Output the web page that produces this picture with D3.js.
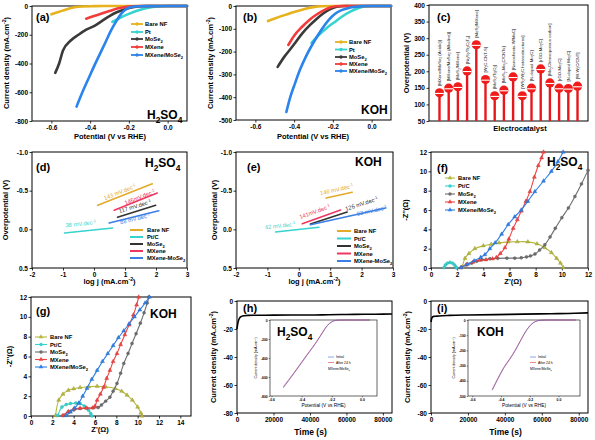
<!DOCTYPE html>
<html><head><meta charset="utf-8">
<script src="https://cdn.jsdelivr.net/npm/d3@7"></script>
<style>body{margin:0;background:#fff}svg{display:block;font-family:"Liberation Sans",Arial,sans-serif}</style>
</head><body><svg id="c" width="595" height="440"></svg>
<script>
// ---------------- DATA ----------------
const lsvNames = ['Bare NF','Pt','MoSe_{2}','MXene','MXene/MoSe_{2}'];
const tafelNames = ['Bare NF','Pt/C','MoSe_{2}','MXene','MXene-MoSe_{2}'];
const eisNames = ['Bare NF','Pt/C','MoSe_{2}','MXene','MXene/MoSe_{2}'];

const lsvPotentialTicks = [-0.6,-0.4,-0.2,0.0];
const aCurrentTicks = [0,-200,-400,-600,-800];
const bCurrentTicks = [0,-100,-200,-300,-400,-500];

// (a) LSV in H2SO4: [potential V, current density mA/cm2]
const aBareNF = [[-0.60,-58],[-0.56,-40],[-0.52,-22],[-0.48,-9],[-0.44,-3],[-0.38,-1],[-0.30,0],[0.10,0]];
const aPt = [[-0.285,-110],[-0.25,-85],[-0.20,-55],[-0.15,-30],[-0.10,-12],[-0.05,-3],[0.0,0],[0.10,0]];
const aMoSe2 = [[-0.58,-465],[-0.56,-400],[-0.54,-310],[-0.50,-240],[-0.46,-200],[-0.42,-165],[-0.38,-140],[-0.34,-105],[-0.30,-70],[-0.26,-42],[-0.22,-22],[-0.18,-8],[-0.14,-2],[-0.10,0],[0.10,0]];
const aMXene = [[-0.42,-88],[-0.38,-70],[-0.34,-52],[-0.30,-35],[-0.26,-18],[-0.22,-7],[-0.18,-2],[-0.14,0],[0.10,0]];
const aHetero = [[-0.47,-700],[-0.44,-600],[-0.41,-510],[-0.38,-420],[-0.35,-335],[-0.32,-250],[-0.29,-165],[-0.26,-95],[-0.24,-55],[-0.22,-28],[-0.20,-12],[-0.17,-4],[-0.12,-1],[0.10,0]];

// (b) LSV in KOH
const bBareNF = [[-0.535,-66],[-0.50,-55],[-0.45,-40],[-0.40,-26],[-0.35,-14],[-0.30,-5],[-0.26,-1],[-0.20,0],[0.10,0]];
const bPt = [[-0.31,-162],[-0.27,-125],[-0.23,-95],[-0.19,-70],[-0.15,-45],[-0.11,-25],[-0.07,-10],[-0.04,-2],[0.0,0],[0.10,0]];
const bMoSe2 = [[-0.485,-267],[-0.45,-222],[-0.42,-190],[-0.395,-162],[-0.36,-122],[-0.32,-85],[-0.29,-61],[-0.25,-33],[-0.21,-12],[-0.18,-3],[-0.14,0],[0.10,0]];
const bMXene = [[-0.43,-171],[-0.40,-130],[-0.36,-92],[-0.32,-60],[-0.28,-35],[-0.24,-16],[-0.21,-6],[-0.18,-1],[-0.15,0],[0.10,0]];
const bHetero = [[-0.44,-465],[-0.42,-400],[-0.395,-338],[-0.37,-280],[-0.34,-223],[-0.30,-160],[-0.26,-105],[-0.22,-60],[-0.19,-35],[-0.155,-18],[-0.11,-7],[-0.07,-2],[-0.04,0],[0.10,0]];

// (c) comparison of overpotentials
const cCatalysts = ['[MXene/MoSe_{2} (Acidic)]','[MXene/MoSe_{2} (Alkaline)]','[MoS_{2}/MXene]','[Ni_{3}S_{2}/Ti_{3}C_{2}T_{x}]','[MoS_{2}/MXene]','[W_{2}C-CNT-S]','[MoS_{2}/Ti_{3}C_{2}]','[MoS_{2}-Mo_{2}C/CNTs]','[Nanosheets-W/MoC]','[WS_{2}/W_{2}C heterostructures]','[N-doped Mo_{2}C]','[rGO-Mo_{2}C]','[Mo_{2}C/mesoporous carbon]','[rGO-Mo_{2}C]','[N-doped Mo_{2}C]','[W-W_{2}C/CNT]'];
const cOverpotential = [135,149,153,201,280,175,126,143,183,126,149,207,165,149,148,155];
const cTicks = [50,100,150,200,250,300,350,400];

// (d),(e) Tafel lines: [log j, overpotential]
const tafelXTicks = [-2,-1,0,1,2,3];
const tafelYTicks = [-1.0,-0.5,0.0,0.5];
const dBareNF = [[0.12,-0.31],[1.88,-0.59]];
const dPtC = [[-0.95,0.047],[0.60,-0.017]];
const dMoSe2 = [[0.76,-0.155],[1.99,-0.31]];
const dMXene = [[0.65,-0.246],[2.04,-0.47]];
const dHetero = [[0.49,-0.082],[2.09,-0.24]];
const dSlopes = ['143 mV.dec^{-1}','38 mV.dec^{-1}','117 mV.dec^{-1}','145mV.dec^{-1}','88 mV.dec^{-1}'];
const dSlopeAt = [[0.86,-0.457],[-0.42,-0.047],[1.34,-0.272],[1.50,-0.392],[1.34,-0.112]];
const eBareNF = [[0.87,-0.405],[1.70,-0.48]];
const ePtC = [[-0.74,0.034],[0.64,-0.026]];
const eMoSe2 = [[0.37,-0.069],[1.54,-0.224]];
const eMXene = [[0.11,-0.073],[1.33,-0.25]];
const eHetero = [[0.37,-0.06],[2.77,-0.276]];
const eSlopes = ['148 mV.dec^{-1}','42 mV.dec^{-1}','126 mV.dec^{-1}','141mV.dec^{-1}','83 mV.dec^{-1}'];
const eSlopeAt = [[1.22,-0.49],[-0.59,-0.022],[2.02,-0.306],[0.53,-0.203],[2.34,-0.215]];

// (f),(g) Nyquist: [Z', -Z'']
const fTicks = [0,2,4,6,8,10,12];
const gXTicks = [0,2,4,6,8,10,12,14];
const fBareNF = [[2.4,0.1],[2.6,1.0],[2.9,1.5],[3.35,2.0],[4.0,2.3],[4.6,2.45],[5.2,2.6],[5.9,2.7],[6.6,2.72],[7.4,2.7],[8.1,2.5],[8.7,2.1],[9.2,1.6],[9.6,1.0],[9.9,0.5],[10.1,0.05]];
const fPtC = [[1.0,0.05],[1.1,0.3],[1.25,0.5],[1.45,0.58],[1.65,0.5],[1.8,0.3],[1.9,0.1],[1.95,0.0]];
const fMoSe2 = [[2.3,0.05],[2.7,0.3],[3.1,0.5],[3.5,0.7],[3.9,0.85],[4.5,0.95],[5.1,1.0],[5.8,1.02],[6.4,1.02],[6.9,1.05],[7.3,1.15],[7.6,1.25],[7.95,1.45],[8.3,1.85],[8.7,2.4],[9.1,3.2],[9.5,4.1],[10.0,5.2],[10.5,6.2],[11.0,7.4],[11.5,8.7],[12.0,10.1]];
const fMXene = [[2.3,0.05],[2.7,0.35],[3.2,0.6],[3.7,0.8],[4.2,0.85],[4.7,0.95],[5.0,1.1],[5.3,1.5],[5.65,2.1],[5.95,3.0],[6.28,4.1],[6.6,5.0],[6.9,5.9],[7.25,6.9],[7.56,7.9],[7.9,9.4],[8.2,10.6],[8.45,11.4],[8.6,12]];
const fHetero = [[2.3,0.05],[2.8,0.4],[3.3,0.75],[3.8,1.1],[4.12,1.38],[4.5,2.0],[4.9,2.6],[5.4,3.5],[5.9,4.5],[6.4,5.3],[6.9,6.0],[7.4,6.9],[7.94,7.9],[8.6,9.0],[9.2,10.0],[9.7,11.0],[10.1,12]];
const gBareNF = [[2.3,0.05],[2.6,1.6],[3.0,2.2],[3.5,2.6],[4.0,2.75],[4.6,2.87],[5.4,2.95],[6.2,3.0],[7.0,2.95],[7.9,2.77],[8.5,2.5],[9.0,2.1],[9.5,1.6],[10.0,0.9],[10.3,0.3],[10.4,0.0]];
const gPtC = [[2.5,0.05],[2.9,0.9],[3.3,1.15],[3.7,1.25],[4.2,1.3],[4.6,1.25],[5.0,1.0],[5.4,0.57],[5.6,0.25],[5.7,0.0]];
const gMoSe2 = [[3.0,0.05],[3.5,0.4],[4.0,0.6],[4.6,0.75],[5.2,0.8],[5.8,0.82],[6.3,0.85],[6.6,1.1],[7.0,1.5],[7.4,1.9],[7.7,2.5],[8.06,3.28],[8.4,4.3],[8.7,5.3],[9.1,6.3],[9.47,7.3],[9.85,8.3],[10.25,9.36],[10.6,10.4],[10.9,11.4],[11.05,12]];
const gMXene = [[3.0,0.05],[3.5,0.45],[4.0,0.7],[4.6,0.78],[5.2,0.8],[5.8,0.82],[6.0,1.0],[6.2,1.6],[6.5,2.2],[6.8,2.9],[7.1,3.8],[7.4,4.6],[7.7,5.5],[8.06,6.3],[8.4,7.2],[8.8,8.2],[9.2,9.2],[9.6,10.2],[9.9,11.2],[10.1,12]];
const gHetero = [[3.3,0.05],[3.7,0.4],[4.1,0.8],[4.47,1.3],[4.85,2.0],[5.25,2.8],[5.7,3.7],[6.2,4.6],[6.7,5.5],[7.2,6.3],[7.7,7.1],[8.2,7.9],[8.7,8.6],[9.2,9.3],[9.7,10.0],[10.2,10.7],[10.7,11.4],[11.1,12]];

// (h),(i) stability: time (s), current density
const timeTicks = [0,20000,40000,60000,80000];
const stabTicks = [0,-20,-40,-60,-80];
const hTime = [0,300,800,1500,2500,4000,6000,10000,20000,30000,40000,50000,60000,70000,80000,85000];
const hCurrent = [-20,-17,-14,-12,-11,-10.5,-10.3,-10.2,-10.1,-10,-10,-9.8,-9.6,-9.5,-9.4,-9.3];
const iTime = [0,500,1500,3000,6000,10000,20000,35000,50000,65000,78000,85000];
const iCurrent = [-15,-12,-11,-10.8,-10.5,-10.3,-10,-9.7,-9.4,-9.1,-8.8,-8.5];
// insets: polarization before / after 24 h
const insetPotTicks = [-0.6,-0.4,-0.2,0.0];
const hInsetTicks = [0,-200,-400,-600,-800];
const iInsetTicks = [0,-100,-200,-300,-400,-500];
const hInPotential = [-0.52,-0.45,-0.40,-0.35,-0.30,-0.26,-0.23,-0.20,-0.18,-0.15,-0.10,0.05];
const hInInitial = [-710,-560,-450,-340,-230,-130,-60,-20,-6,-1,0,0];
const hInAfter = [-700,-553,-443,-334,-225,-126,-57,-19,-6,-1,0,0];
const iInPotential = [-0.46,-0.42,-0.38,-0.34,-0.30,-0.26,-0.22,-0.19,-0.16,-0.13,-0.08,0.12];
const iInInitial = [-460,-385,-315,-260,-200,-130,-65,-30,-10,-2,0,0];
const iInAfter = [-455,-380,-311,-256,-196,-127,-63,-29,-10,-2,0,0];

// ---------------- DRAWING ----------------
const svg = d3.select('#c');
const FONT = '"Liberation Sans",Arial,sans-serif';
const C = {nf:'#e6b31e', pt:'#36d3cf', mo:'#3a3a3a', mx:'#f23c3c', het:'#2a84ec',
           nfT:'#e4aa2a', moT:'#333333', mxT:'#ee3760', hetT:'#3a7ee6',
           nfE:'#b6b83c', moE:'#6e6e6e', mxE:'#f04444', hetE:'#2f7fe8'};

function rich(t, str, fs){
  const re = /([_^])\{([^}]*)\}/g; let last=0, m; const parts=[];
  while((m=re.exec(str))){ if(m.index>last) parts.push({t:str.slice(last,m.index),s:0}); parts.push({t:m[2],s:m[1]==='_'?1:-1}); last=re.lastIndex; }
  if(last<str.length) parts.push({t:str.slice(last),s:0});
  let cur=0;
  parts.forEach(p=>{ const tg = p.s>0? fs*0.3 : (p.s<0? -fs*0.38 : 0);
    t.append('tspan').attr('dy',tg-cur).attr('font-size',p.s?fs*0.7:fs).text(p.t); cur=tg; });
  return t;
}
function txt(g, x, y, str, fs, o={}){
  const t = g.append('text').attr('x',x).attr('y',y).attr('font-family',FONT)
    .attr('font-weight',o.w||'bold').attr('fill',o.c||'#000').attr('text-anchor',o.a||'start');
  if(o.rot!==undefined) t.attr('transform',`rotate(${o.rot},${x},${y})`);
  return rich(t,str,fs);
}
const fmt = k => d => (d<0?'-':'') + Math.abs(d).toFixed(k);

function panel(o){
  const x = d3.scaleLinear().domain(o.xd).range(o.xr);
  const y = d3.scaleLinear().domain(o.yd).range(o.yr);
  const g = svg.append('g');
  const fs=o.fs||6.5, ts=o.ts||2.5, sw=o.sw||1;
  g.append('rect').attr('x',o.xr[0]).attr('y',o.yr[1]).attr('width',o.xr[1]-o.xr[0]).attr('height',o.yr[0]-o.yr[1])
    .attr('fill','#fff').attr('stroke','#000').attr('stroke-width',sw);
  const style = a => { a.select('.domain').remove(); a.selectAll('line').attr('stroke','#000').attr('stroke-width',sw*0.8);
    a.selectAll('text').attr('font-size',fs).attr('font-weight','bold').attr('font-family',FONT).attr('fill','#000'); };
  if(o.xt) g.append('g').attr('transform',`translate(0,${o.yr[0]})`)
    .call(d3.axisBottom(x).tickValues(o.xt).tickFormat(o.xf||(d=>d)).tickSize(ts).tickSizeOuter(0).tickPadding(o.tp||1.5)).call(style);
  if(o.yt) g.append('g').attr('transform',`translate(${o.xr[0]},0)`)
    .call(d3.axisLeft(y).tickValues(o.yt).tickFormat(o.yf||(d=>d)).tickSize(ts).tickSizeOuter(0).tickPadding(o.tp||1.5)).call(style);
  return {x,y,g};
}
function curve(p, data, color, lw, cv){
  p.g.append('path').datum(data).attr('fill','none').attr('stroke',color).attr('stroke-width',lw)
   .attr('stroke-linejoin','round').attr('stroke-linecap','round')
   .attr('d', d3.line().x(d=>p.x(d[0])).y(d=>p.y(d[1])).curve(cv||d3.curveMonotoneX));
}
function markers(p, data, color, sym){
  p.g.append('g').selectAll('path').data(data).join('path')
   .attr('transform',d=>`translate(${p.x(d[0])},${p.y(d[1])})`)
   .attr('d', d3.symbol().type(sym).size(7)).attr('fill',color).attr('stroke',d3.color(color).darker(0.6)).attr('stroke-width',0.4);
}
function legend(g, names, colors, x0, x1, tx, ys, fs, syms, lw){
  names.forEach((n,i)=>{
    g.append('line').attr('x1',x0).attr('x2',x1).attr('y1',ys[i]).attr('y2',ys[i]).attr('stroke',colors[i]).attr('stroke-width',lw);
    if(syms) g.append('path').attr('transform',`translate(${(x0+x1)/2},${ys[i]})`).attr('d',d3.symbol().type(syms[i]).size(9)).attr('fill',colors[i]);
    txt(g, tx, ys[i]+fs*0.36, n, fs);
  });
}

// ---- (a)
{
  const p = panel({xd:[-0.7,0.1], xr:[32,187], yd:[-800,0], yr:[121,6], xt:lsvPotentialTicks, xf:fmt(1), yt:aCurrentTicks, yf:fmt(0)});
  const cols=[C.nf,C.pt,C.mo,C.mx,C.het];
  [aBareNF,aPt,aMoSe2,aMXene,aHetero].forEach((d,i)=>curve(p,d,cols[i],2.6));
  legend(p.g, lsvNames, cols, 131, 143, 145, [24,32,39,47,55], 5.8, [d3.symbolCircle,d3.symbolCircle,d3.symbolCircle,d3.symbolCircle,d3.symbolCircle], 1.8);
  txt(p.g, 36, 21, '(a)', 11);
  txt(p.g, 147, 119, 'H_{2}SO_{4}', 12);
  txt(svg, 9, 63, 'Current density (mA.cm^{-2})', 7.5, {a:'middle', rot:-90});
  txt(svg, 110, 139, 'Potential (V vs RHE)', 7.5, {a:'middle'});
}
// ---- (b)
{
  const p = panel({xd:[-0.7,0.1], xr:[236,391], yd:[-500,0], yr:[120,6], xt:lsvPotentialTicks, xf:fmt(1), yt:bCurrentTicks, yf:fmt(0)});
  const cols=[C.nf,C.pt,C.mo,C.mx,C.het];
  [bBareNF,bPt,bMoSe2,bMXene,bHetero].forEach((d,i)=>curve(p,d,cols[i],2.6));
  legend(p.g, lsvNames, cols, 335, 347, 349, [42,49.5,57,64,71], 5.8, [d3.symbolCircle,d3.symbolCircle,d3.symbolCircle,d3.symbolCircle,d3.symbolCircle], 1.8);
  txt(p.g, 243, 21, '(b)', 11);
  txt(p.g, 361, 114, 'KOH', 12);
  txt(svg, 213, 63, 'Current density (mA.cm^{-2})', 7.5, {a:'middle', rot:-90});
  txt(svg, 313, 139, 'Potential (V vs RHE)', 7.5, {a:'middle'});
}
// ---- (c)
{
  const p = panel({xd:[0,1], xr:[429,588], yd:[50,400], yr:[121,5], yt:cTicks, yf:fmt(0)});
  const xb = d3.scalePoint().domain(d3.range(cCatalysts.length)).range([429,588]).padding(1.14);
  const g = p.g;
  cOverpotential.forEach((v,i)=>{
    const cx = xb(i), cy = p.y(v);
    g.append('line').attr('x1',cx).attr('x2',cx).attr('y1',p.y(50)).attr('y2',cy).attr('stroke','#e8161a').attr('stroke-width',2.4);
    g.append('circle').attr('cx',cx).attr('cy',cy).attr('r',4.6).attr('fill','#f01c1c');
    g.append('line').attr('x1',cx-4.4).attr('x2',cx+4.4).attr('y1',cy+0.6).attr('y2',cy+0.6).attr('stroke','#fff').attr('stroke-width',1.1);
    txt(g, cx+1.5, cy-7, cCatalysts[i], 4.3, {rot:-90, w:'normal', c:'#222'});
  });
  txt(p.g, 437, 21, '(c)', 11);
  txt(svg, 409, 63, 'Overpotential (V)', 7.5, {a:'middle', rot:-90});
  txt(svg, 520, 131, 'Electrocatalyst', 7.5, {a:'middle'});
}
// ---- (d),(e) Tafel
function tafel(xr, lines, slopes, at, lbl, title, tx, ty, lx, ys, ylx){
  const p = panel({xd:[-2,3], xr:xr, yd:[0.5,-1.0], yr:[268,152], xt:tafelXTicks, xf:fmt(0), yt:tafelYTicks, yf:fmt(1)});
  const cols=[C.nfT,C.pt,C.moT,C.mxT,C.hetT];
  lines.forEach((d,i)=>curve(p,d,cols[i],1.6,d3.curveLinear));
  lines.forEach((d,i)=>{
    const ang = Math.atan2(p.y(d[1][1])-p.y(d[0][1]), p.x(d[1][0])-p.x(d[0][0]))*180/Math.PI;
    const X=p.x(at[i][0]), Y=p.y(at[i][1]);
    const t = p.g.append('text').attr('x',X).attr('y',Y).attr('text-anchor','middle').attr('font-family',FONT)
      .attr('fill',cols[i]).attr('transform',`rotate(${ang},${X},${Y})`);
    rich(t, slopes[i], 5.8);
  });
  legend(p.g, tafelNames, cols, lx[0], lx[1], lx[2], ys, 5.8, null, 2);
  txt(p.g, xr[0]+(lbl==='(d)'?4:11), 171, lbl, 11);
  txt(p.g, tx, ty, title, 12);
  txt(svg, ylx, 210, 'Overpotential (V)', 7.5, {a:'middle', rot:-90});
  txt(svg, (xr[0]+xr[1])/2, 284, 'log j (mA.cm^{-2})', 7.5, {a:'middle'});
}
tafel([32,187],[dBareNF,dPtC,dMoSe2,dMXene,dHetero], dSlopes, dSlopeAt, '(d)', 'H_{2}SO_{4}', 145, 167, [130,143,147], [230,237,244,251,258], 8);
tafel([236,393],[eBareNF,ePtC,eMoSe2,eMXene,eHetero], eSlopes, eSlopeAt, '(e)', 'KOH', 355, 166, [337,351,354], [231,238.5,246,253.5,261], 217);

// ---- (f),(g) Nyquist
function nyq(o, sets, lbl, lx, title, tx, ty, ylx, xlx, xly){
  const p = panel(o);
  const cols=[C.nfE,C.pt,C.moE,C.mxE,C.hetE];
  const syms=[d3.symbolTriangle,d3.symbolCircle,d3.symbolCircle,d3.symbolTriangle,d3.symbolTriangle];
  sets.forEach((d,i)=>{ curve(p,d,cols[i],1.1,d3.curveCatmullRom); markers(p,d,cols[i],syms[i]); });
  legend(p.g, eisNames, cols, lx[0], lx[1], lx[2], lx[3], 5.8, syms, 1.1);
  txt(p.g, lbl[1], lbl[2], lbl[0], 11);
  txt(p.g, tx, ty, title, 12);
  txt(svg, ylx, (o.yr[0]+o.yr[1])/2, "-Z''(Ω)", 7.5, {a:'middle', rot:-90});
  txt(svg, xlx, xly, "Z'(Ω)", 7.5, {a:'middle'});
}
nyq({xd:[0,12], xr:[431,588], yd:[0,12], yr:[268,152], xt:fTicks, yt:fTicks},
    [fBareNF,fPtC,fMoSe2,fMXene,fHetero], ['(f)',437,172], [445,455,458,[178,186,194,202,210]], 'H_{2}SO_{4}', 547, 166, 408, 513, 284);
nyq({xd:[0,15], xr:[31,191], yd:[0,12], yr:[416,297], xt:gXTicks, yt:fTicks},
    [gBareNF,gPtC,gMoSe2,gMXene,gHetero], ['(g)',36,315], [35,47,50,[337,344.5,352,359.5,367]], 'KOH', 150, 318, 12, 100, 432);

// ---- (h),(i) stability + insets
function stab(xr, times, cur, lbl, ylx, inset){
  const p = panel({xd:[0,85000], xr:xr, yd:[-80,0], yr:[413,301], xt:timeTicks, yt:stabTicks, yf:fmt(0)});
  p.g.append('path').datum(d3.zip(times,cur)).attr('fill','none').attr('stroke','#000').attr('stroke-width',1.6)
    .attr('d', d3.line().x(d=>p.x(d[0])).y(d=>p.y(d[1])).curve(d3.curveMonotoneX));
  txt(p.g, xr[0]+6, 312, lbl, 11);
  txt(svg, ylx, 357, 'Current density (mA.cm^{-2})', 7.5, {a:'middle', rot:-90});
  txt(svg, (xr[0]+xr[1])/2-4, 435, 'Time (s)', 8.5, {a:'middle'});
  const q = panel({xd:inset.xd, xr:inset.xr, yd:inset.yd, yr:[396,320], xt:insetPotTicks, xf:fmt(1), yt:inset.yt, yf:fmt(0), fs:3.4, ts:1.3, sw:0.6, tp:1});
  curve(q, d3.zip(inset.pot, inset.after), '#e0404a', 0.7);
  curve(q, d3.zip(inset.pot, inset.init), '#6a64c8', 0.7);
  const lx = inset.lx;
  q.g.append('line').attr('x1',lx-8).attr('x2',lx-2).attr('y1',357).attr('y2',357).attr('stroke','#3a6ee0').attr('stroke-width',0.6);
  q.g.append('line').attr('x1',lx-8).attr('x2',lx-2).attr('y1',362.5).attr('y2',362.5).attr('stroke','#e04040').attr('stroke-width',0.6);
  txt(q.g, lx, 358.2, 'Initial', 3.4, {w:'normal'});
  txt(q.g, lx, 363.7, 'After  24 h', 3.4, {w:'normal'});
  txt(q.g, lx-8, 369.5, 'MXene/MoSe_{2}', 3.4, {w:'normal'});
  txt(q.g, inset.tx, 336, inset.title, 12);
  txt(svg, inset.xr[0]-13, 358, 'Current density (mA.cm^{-2})', 3.6, {a:'middle', rot:-90, w:'normal'});
  txt(svg, (inset.xr[0]+inset.xr[1])/2, 407, 'Potential (V vs RHE)', 4.8, {a:'middle', w:'normal'});
}
stab([237,392], hTime, hCurrent, '(h)', 216,
  {xd:[-0.61,0.1], xr:[270,377], yd:[-800,0], yt:hInsetTicks, pot:hInPotential, init:hInInitial, after:hInAfter, lx:336, title:'H_{2}SO_{4}', tx:277});
stab([431,588], iTime, iCurrent, '(i)', 410,
  {xd:[-0.63,0.15], xr:[468,580], yd:[-500,0], yt:iInsetTicks, pot:iInPotential, init:iInInitial, after:iInAfter, lx:538, title:'KOH', tx:477});
</script></body></html>
